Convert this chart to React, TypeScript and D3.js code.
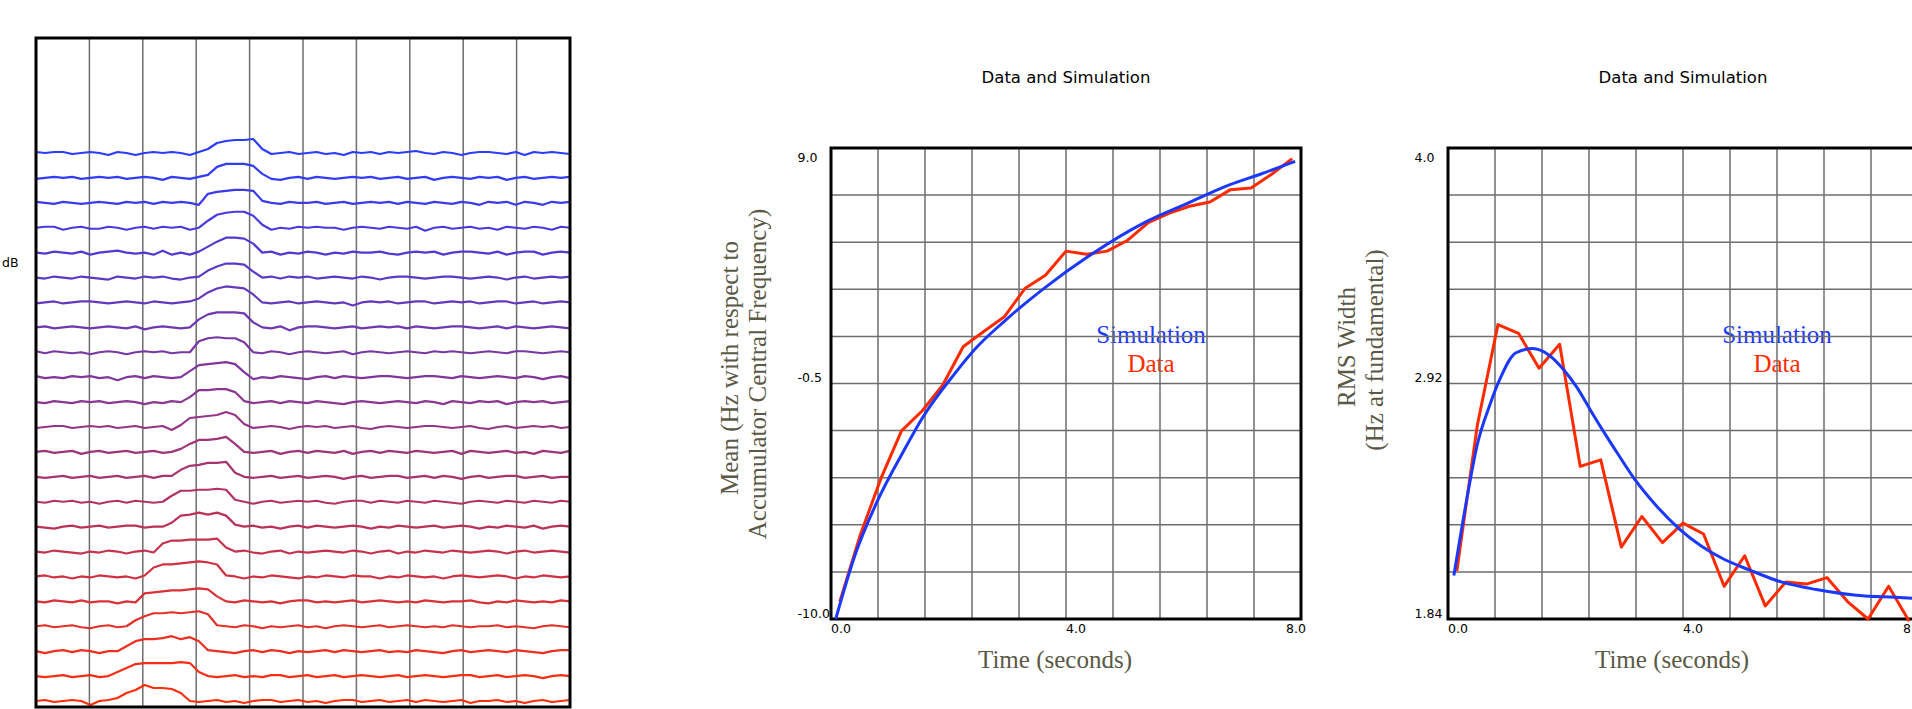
import React, { useRef, useEffect } from 'react';
import * as d3 from 'd3';

// waterfall: one row per sweep, level (px-ish dB units) per frequency bin, 60 bins
const traces: number[][] = [
  [1, 0, 1, 1, -1, 0, 1, 0, -2, 1, 0, -2, 0, 1, 0, 1, 0, -2, 1, 4, 10, 12, 13, 13, 14, 4, -1, 0, 1, -1, 0, 1, -1, 0, -2, 1, 0, 1, -1, 1, 0, 1, 2, 0, -1, 1, 0, -2, 0, 1, 1, 0, -1, 1, -2, 1, 0, 1, 0, -1],
  [-1, 0, 1, 0, 1, -1, 0, 1, 0, 1, -1, 0, 1, 0, -2, 1, 0, -1, 1, 3, 11, 14, 14, 14, 12, 4, -1, -2, 0, 1, -1, 1, 0, -1, 0, 1, 0, 1, -1, 0, 1, -1, 0, 1, -2, 0, 1, 0, -1, 1, 0, 1, -2, 0, 1, -1, 0, 1, 0, 1],
  [1, 0, -1, 1, 0, -1, 0, 1, 0, -1, 1, 0, 1, -1, 1, 0, 1, 0, -2, 9, 11, 12, 13, 13, 12, 2, 0, -1, 1, 0, 0, 1, -1, 0, 1, -1, 0, 1, 0, 1, -1, 1, 0, -1, 1, 0, -1, 1, 0, -2, 1, 0, 1, -2, 1, 0, -2, 1, 0, 1],
  [0, 1, 1, -2, 0, 1, -1, -1, 1, 0, -2, 0, 1, -1, 1, 0, 1, -2, 0, 7, 13, 15, 16, 16, 12, 3, -2, 0, -1, 1, 0, 1, 0, 0, -2, 0, 1, 0, -1, 1, 0, -1, 1, -3, 0, 1, -1, 0, 1, -1, 0, -2, 1, 0, -1, 1, 0, -2, 1, 0],
  [0, -1, 1, 0, -1, 1, -2, 0, 1, 2, 0, -1, 0, -2, 2, -2, 0, -2, 1, 6, 11, 15, 15, 14, 9, 0, 1, -2, 0, -1, 1, 0, -2, 0, -1, 1, 0, 0, 1, -1, -2, 0, 1, 0, 1, -2, 0, 1, 1, 0, -1, 1, -2, 0, 1, 1, -2, 0, 1, 0],
  [0, -1, 1, 0, -1, 1, 0, -1, -2, 1, 0, -1, 1, 0, 1, -1, -2, 0, 1, 7, 11, 14, 14, 13, 6, 0, 1, -1, 1, 0, 1, -1, 0, 1, 0, -1, 1, 0, -2, 0, 1, 1, 0, -1, 0, 1, 1, 0, -1, 0, 1, 0, -2, 0, 1, -1, 0, 1, 0, 1],
  [-1, 0, 1, -1, 0, 1, 1, 0, -1, 0, 1, 0, -1, 1, 0, -1, 0, 1, 4, 10, 14, 16, 15, 14, 8, 0, -1, 0, 1, -1, 0, 1, 0, -1, 0, -3, 0, 1, 0, 1, -1, 0, 1, 1, -1, 0, 1, 0, 1, -1, 0, 1, 1, -1, 0, 1, -1, 0, 1, 0],
  [0, 1, -1, 0, 1, 0, -1, 0, 1, 0, -1, 1, -2, 0, 1, 0, -1, 0, 8, 13, 15, 15, 15, 14, 5, 0, -1, 1, -3, 0, 1, 1, 0, -1, 0, 1, -1, 0, 1, 0, 1, -1, 1, 0, -1, 0, 1, 1, 0, -1, 0, 1, -1, 1, 0, -1, 0, 1, 0, -1],
  [1, -1, 1, 0, -1, 0, -2, 0, 1, 0, -2, 0, 1, 0, 1, -1, 0, 0, 11, 14, 15, 14, 14, 10, 0, -1, 1, 0, -2, 0, 1, 0, -1, 0, 1, -2, 0, 1, 0, -1, 0, 1, 0, -1, 1, 0, 1, 0, -1, 0, 1, 0, -1, 1, 1, 0, -1, 0, 1, 0],
  [1, -1, 0, -1, 1, 0, 1, -1, 0, -3, 0, 1, -1, 1, 0, -1, 0, 6, 12, 13, 14, 15, 13, 5, -2, 0, -1, 1, 0, -1, -2, 0, 1, -1, 1, 0, -1, 0, 1, 1, 0, -1, 0, 1, 1, 0, -1, 1, 0, -1, 0, 1, 0, -1, 1, 0, -2, 0, 1, -1],
  [0, -1, 1, 0, -1, 1, 0, 1, -1, 0, 1, 0, -2, 0, -1, 1, 0, 5, 12, 12, 13, 13, 10, 1, -1, 0, 1, -1, 1, 0, -1, 1, 0, -1, -2, 0, 1, 0, -1, 0, 1, 0, -1, 1, 0, -2, 1, 0, -1, 1, 0, 1, -2, 0, 1, 0, 1, -1, 0, 1],
  [-1, 0, 1, 1, -1, 0, 1, 0, 1, -1, 0, 1, -1, 0, 1, -3, 2, 9, 10, 11, 12, 15, 12, 3, -1, 0, 1, 0, -2, 0, 1, 0, 1, -1, 0, 1, -1, -2, 0, 1, 0, -1, 0, 1, 1, 0, -1, 0, 1, -1, -2, 0, 1, -1, 0, 1, 0, 1, -1, 0],
  [0, 1, -1, 0, 1, -2, 0, 1, -1, 0, 1, -1, 0, 1, -1, 0, 3, 8, 12, 12, 13, 15, 8, 0, -1, 0, 1, -2, 0, 1, -1, 1, 0, -1, 1, -2, 0, 1, -1, 1, 0, -1, 1, 0, -1, 0, 1, -2, 1, 0, -1, 0, 1, -1, 0, -2, 1, 0, -1, 1],
  [0, -1, 0, 1, -1, 0, 1, -1, 0, 1, -1, 0, 1, -1, 1, 1, 7, 11, 12, 14, 14, 15, 4, 0, -1, 0, 1, -1, 0, 1, -1, 0, 1, 0, -2, 0, 1, -1, 0, 1, 1, -1, 0, 1, -1, 1, 0, -2, 0, 1, -1, 0, 1, 1, -1, 0, 1, -1, 0, 0],
  [0, -1, 1, 0, 1, -1, 0, -2, 0, 1, -1, 1, 0, -1, 0, 6, 11, 11, 12, 12, 13, 12, 2, 0, -2, 0, 1, -1, 0, 1, 0, 1, -1, -2, 0, 1, 1, -1, 1, 0, -1, 1, 0, -1, 1, 0, -1, -2, 0, 1, 0, -1, 1, 0, -1, 1, 0, -1, 1, 0],
  [0, -1, -2, 0, 1, -1, 0, 1, -1, 0, 1, 1, -1, 0, 0, 4, 11, 12, 14, 12, 14, 11, 2, 0, 1, -1, 0, -2, 0, 1, -1, 1, 0, -1, 0, 1, 0, -2, 0, -1, 1, 0, -1, 0, 1, -1, 0, 1, 0, -2, 0, -1, 1, 0, -1, 1, -2, 0, 1, 0],
  [0, -1, 1, 0, -1, -2, 0, -1, 1, 0, -2, 0, 1, -1, 8, 11, 11, 12, 12, 12, 13, 4, 0, 1, -1, -2, 0, 1, -2, 0, -1, 0, 1, 0, -1, 1, 0, -2, 0, 1, -2, 0, -1, 1, 0, -1, 1, 0, -1, 0, 1, 0, -2, 0, 1, -1, 0, 1, 0, -1],
  [0, 1, -1, 0, -2, 0, -1, 1, 0, -1, 0, -2, 1, 9, 12, 12, 13, 14, 15, 14, 12, 1, 0, -2, 0, -1, 1, 0, -1, -2, 0, -1, 1, 0, -1, 1, 0, 0, -2, 0, -1, 1, 0, -1, 0, -2, 0, 1, 0, -1, 0, 1, 0, -2, 0, -1, 1, 0, -1, 0],
  [0, -1, 1, 0, -1, 1, -1, 0, 0, -2, 0, -1, 8, 9, 10, 11, 11, 12, 13, 12, 5, 0, -1, 1, 0, -1, 0, -2, 0, 1, 1, -1, 0, -1, 0, 1, -1, 0, 1, 0, -1, 0, -1, 1, 0, -1, 0, 0, 1, -1, -2, 0, -1, 1, 0, -1, 0, -1, 1, 0],
  [0, 1, -1, 0, 1, -1, -2, 0, 1, -1, 0, 6, 10, 13, 13, 14, 13, 14, 15, 12, 1, 0, -1, 1, 0, -2, 0, -1, 0, 1, -1, 0, -2, 0, 1, 0, -1, 0, 1, -1, 0, 1, 0, -1, 0, -1, 1, 0, -1, 0, 0, 1, -1, 0, -1, -2, 0, 1, 0, -1],
  [0, -2, 0, 1, -1, 1, 0, -2, 0, 0, 5, 10, 12, 12, 13, 15, 12, 14, 10, 1, 0, -1, -2, 0, 1, -1, 1, 0, -2, 0, -1, 0, 1, -1, 1, 0, -1, 0, 1, -1, 0, -1, 1, 0, -1, -2, 0, 1, -1, 0, 1, 0, -1, 1, 0, -1, -2, 0, 1, 1],
  [0, -1, 0, 1, -1, 0, 1, -1, 0, 4, 8, 12, 13, 13, 13, 13, 14, 13, 4, 0, -1, 0, 1, -1, 0, -1, 1, 1, -1, 0, 1, -1, 0, 1, -1, 0, 1, 0, -1, 0, 1, -1, 0, 1, 0, -1, 0, 1, 1, -1, 0, 1, -1, 0, 1, 0, -2, 0, 1, 0],
  [0, 1, -1, 0, 1, 0, -4, 0, 1, 3, 8, 11, 16, 13, 13, 12, 8, 0, -1, 0, 1, -1, 0, -2, 0, 1, 1, -1, 0, 1, -1, 0, -2, 0, 1, 1, -1, 0, 1, -1, 0, 1, -1, 1, 0, -1, 0, 1, -2, 0, 0, 1, -1, 0, -2, 0, 1, -1, 0, 1],
];

// time axis of the measured points (seconds)
const dataTime = [0.15, 0.5, 0.85, 1.2, 1.55, 1.9, 2.25, 2.6, 2.95, 3.3, 3.65, 4.0, 4.35, 4.7, 5.05, 5.4, 5.75, 6.1, 6.45, 6.8, 7.15, 7.5, 7.85];

// mean frequency: data and simulation
const meanData = [-9.3, -6.6, -4.33, -2.41, -1.61, -0.57, 0.98, 1.6, 2.19, 3.33, 3.87, 4.84, 4.71, 4.84, 5.28, 5.99, 6.36, 6.65, 6.82, 7.32, 7.39, 7.94, 8.57];
const meanSimTime = [0.08, 0.42, 0.77, 1.26, 1.55, 2.11, 2.46, 2.94, 3.66, 4.37, 5.36, 6.06, 6.77, 7.34, 7.9];
const meanSim = [-10.0, -7.35, -5.34, -3.12, -1.91, -0.09, 0.91, 1.99, 3.4, 4.61, 6.02, 6.76, 7.5, 7.97, 8.46];

// rms width: data and simulation
const rmsData = [2.06, 2.73, 3.19, 3.15, 2.99, 3.1, 2.54, 2.57, 2.17, 2.31, 2.19, 2.28, 2.23, 1.99, 2.13, 1.9, 2.01, 2.0, 2.03, 1.92, 1.84, 1.99, 1.83];
const rmsSimTime = [0.1, 0.36, 0.49, 0.71, 0.9, 1.15, 1.44, 1.72, 1.98, 2.2, 2.42, 2.67, 2.92, 3.18, 3.56, 3.93, 4.31, 4.69, 5.13, 5.67, 6.27, 7.1, 7.61, 7.91];
const rmsSim = [2.04, 2.45, 2.63, 2.82, 2.95, 3.06, 3.08, 3.05, 2.98, 2.9, 2.8, 2.69, 2.585, 2.48, 2.355, 2.255, 2.175, 2.115, 2.065, 2.01, 1.975, 1.945, 1.94, 1.935];

const timeTicks = [0, 4, 8];
const timeTickLabels = ['0.0', '4.0', '8.0'];
const meanTicks = [9.0, -0.5, -10.0];
const meanTickLabels = ['9.0', '-0.5', '-10.0'];
const rmsTicks = [4.0, 2.92, 1.84];
const rmsTickLabels = ['4.0', '2.92', '1.84'];

const W = 1912;
const H = 709;
const SANS = '"DejaVu Sans", sans-serif';
const SERIF = '"Liberation Serif", serif';
const BLUE = '#1a38ff';
const RED = '#ff2a00';
const GRID = '#6e6e6e';
const TITLE_INK = '#5a5846';

function drawWaterfall(svg) {
  const box = { x: 36, y: 38, w: 534, h: 669 };
  const bins = traces[0].length;

  const x = d3.scaleLinear().domain([0, bins - 1]).range([box.x, box.x + box.w]);
  const row = d3.scalePoint().domain(d3.range(traces.length)).range([153, 701]);
  const level = d3.scaleLinear().domain([0, 10]).range([0, -10]);
  const color = d3.scaleLinear()
    .domain([0, traces.length - 1])
    .range(['#2a3cff', '#ff2e0a'])
    .interpolate(d3.interpolateRgb);
  const col = d3.scaleLinear().domain([0, 10]).range([box.x, box.x + box.w]);

  const g = svg.append('g');

  g.selectAll('.col')
    .data(d3.range(1, 10))
    .enter()
    .append('line')
    .attr('x1', (d) => col(d))
    .attr('x2', (d) => col(d))
    .attr('y1', box.y)
    .attr('y2', box.y + box.h)
    .attr('stroke', GRID)
    .attr('stroke-width', 1.5);

  traces.forEach((tr, k) => {
    const line = d3.line()
      .x((d, i) => x(i))
      .y((d) => row(k) + level(d));
    g.append('path')
      .attr('d', line(tr))
      .attr('fill', 'none')
      .attr('stroke', color(k))
      .attr('stroke-width', 2.2)
      .attr('stroke-linejoin', 'round');
  });

  g.append('rect')
    .attr('x', box.x)
    .attr('y', box.y)
    .attr('width', box.w)
    .attr('height', box.h)
    .attr('fill', 'none')
    .attr('stroke', '#000')
    .attr('stroke-width', 3);

  svg.append('text')
    .attr('x', 2)
    .attr('y', 267)
    .attr('font-family', SANS)
    .attr('font-size', 12.5)
    .text('dB');
}

function drawPanel(svg, opt) {
  const top = 148;
  const pw = 470;
  const ph = 471;
  const left = opt.left;

  const x = d3.scaleLinear().domain([0, 8]).range([left, left + pw]);
  const y = d3.scaleLinear().domain(opt.yDomain).range([top + ph, top]);
  const colX = d3.scaleLinear().domain([0, 10]).range([left, left + pw]);
  const rowY = d3.scaleLinear().domain([0, 10]).range([top, top + ph]);

  const g = svg.append('g');

  // title
  g.append('text')
    .attr('x', left + pw / 2)
    .attr('y', 83)
    .attr('text-anchor', 'middle')
    .attr('font-family', SANS)
    .attr('font-size', 16.5)
    .text('Data and Simulation');

  // legend words sit under the grid
  g.append('text')
    .attr('x', opt.legendX)
    .attr('y', 342.5)
    .attr('text-anchor', 'middle')
    .attr('font-family', SERIF)
    .attr('font-size', 25)
    .attr('fill', BLUE)
    .text('Simulation');
  g.append('text')
    .attr('x', opt.legendX)
    .attr('y', 371.5)
    .attr('text-anchor', 'middle')
    .attr('font-family', SERIF)
    .attr('font-size', 25)
    .attr('fill', RED)
    .text('Data');

  g.selectAll('.vgrid')
    .data(d3.range(1, 10))
    .enter()
    .append('line')
    .attr('x1', (d) => colX(d))
    .attr('x2', (d) => colX(d))
    .attr('y1', top)
    .attr('y2', top + ph)
    .attr('stroke', GRID)
    .attr('stroke-width', 1.5);

  g.selectAll('.hgrid')
    .data(d3.range(1, 10))
    .enter()
    .append('line')
    .attr('x1', left)
    .attr('x2', left + pw)
    .attr('y1', (d) => rowY(d))
    .attr('y2', (d) => rowY(d))
    .attr('stroke', GRID)
    .attr('stroke-width', 1.5);

  g.append('rect')
    .attr('x', left)
    .attr('y', top)
    .attr('width', pw)
    .attr('height', ph)
    .attr('fill', 'none')
    .attr('stroke', '#000')
    .attr('stroke-width', 3);

  // y tick labels, the top one hangs below the frame
  g.selectAll('.ytick')
    .data(opt.yTicks)
    .enter()
    .append('text')
    .attr('x', left - 33.5)
    .attr('y', (d) => Math.max(y(d) - 1.5, top + 14))
    .attr('font-family', SANS)
    .attr('font-size', 12.5)
    .text((d, i) => opt.yTickLabels[i]);

  g.selectAll('.xtick')
    .data(timeTicks)
    .enter()
    .append('text')
    .attr('x', (d, i) => (i === timeTicks.length - 1 ? x(d) + 5 : x(d)))
    .attr('y', 633)
    .attr('text-anchor', (d, i) => (i === timeTicks.length - 1 ? 'end' : 'start'))
    .attr('font-family', SANS)
    .attr('font-size', 12.5)
    .text((d, i) => timeTickLabels[i]);

  // axis titles
  g.append('text')
    .attr('x', left + pw / 2 - 11)
    .attr('y', 668)
    .attr('text-anchor', 'middle')
    .attr('font-family', SERIF)
    .attr('font-size', 25)
    .attr('fill', TITLE_INK)
    .text('Time (seconds)');

  opt.yTitle.forEach((t, i) => {
    g.append('text')
      .attr('transform', `translate(${left - 93 + i * 28},${opt.yTitleY[i]}) rotate(-90)`)
      .attr('text-anchor', 'middle')
      .attr('font-family', SERIF)
      .attr('font-size', 25)
      .attr('fill', TITLE_INK)
      .text(t);
  });

  // series
  const sim = d3.line()
    .x((d) => x(d[0]))
    .y((d) => y(d[1]))
    .curve(d3.curveMonotoneX);
  const dat = d3.line()
    .x((d) => x(d[0]))
    .y((d) => y(d[1]));

  g.append('path')
    .datum(d3.zip(dataTime, opt.data))
    .attr('d', dat)
    .attr('fill', 'none')
    .attr('stroke', RED)
    .attr('stroke-width', 3)
    .attr('stroke-linejoin', 'round');

  g.append('path')
    .datum(d3.zip(opt.simTime, opt.sim))
    .attr('d', sim)
    .attr('fill', 'none')
    .attr('stroke', BLUE)
    .attr('stroke-width', 3)
    .attr('stroke-linejoin', 'round');
}

export default function App() {
  const ref = useRef(null);

  useEffect(() => {
    const svg = d3.select(ref.current);
    svg.selectAll('*').remove();

    drawWaterfall(svg);

    drawPanel(svg, {
      left: 831,
      yDomain: [-10, 9],
      yTicks: meanTicks,
      yTickLabels: meanTickLabels,
      yTitle: ['Mean (Hz with respect to', 'Accumulator Central Frequency)'],
      yTitleY: [368, 374],
      legendX: 1151,
      data: meanData,
      simTime: meanSimTime,
      sim: meanSim,
    });

    drawPanel(svg, {
      left: 1448,
      yDomain: [1.84, 4.0],
      yTicks: rmsTicks,
      yTickLabels: rmsTickLabels,
      yTitle: ['RMS Width', '(Hz at fundamental)'],
      yTitleY: [347, 350],
      legendX: 1777,
      data: rmsData,
      simTime: rmsSimTime,
      sim: rmsSim,
    });
  }, []);

  return (
    <svg
      ref={ref}
      width={W}
      height={H}
      style={{ position: 'absolute', left: 0, top: 0, display: 'block' }}
    />
  );
}
